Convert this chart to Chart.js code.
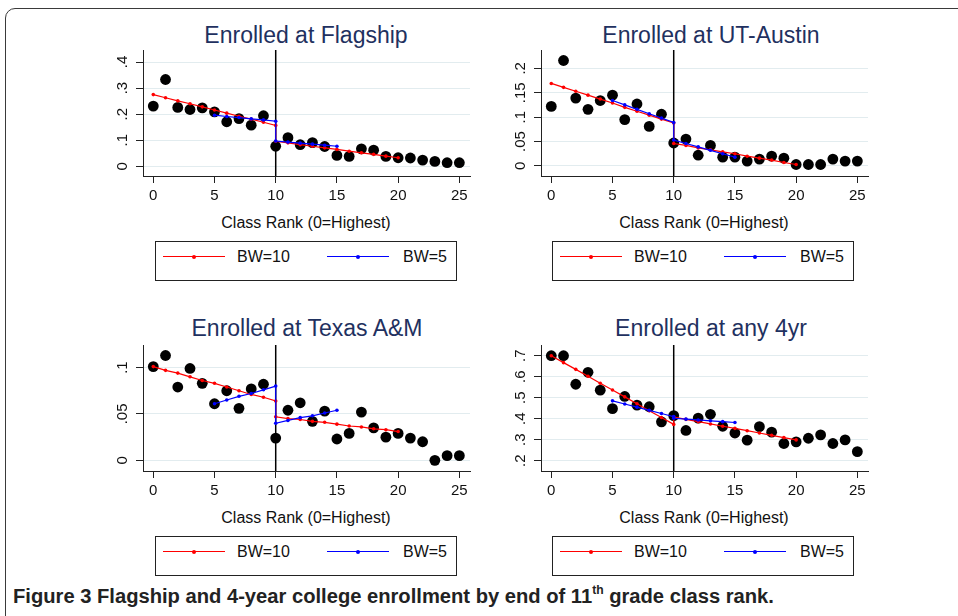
<!DOCTYPE html>
<html>
<head>
<meta charset="utf-8">
<script src="https://cdn.jsdelivr.net/npm/chart.js@4.4.1/dist/chart.umd.min.js"></script>
<style>
  body { margin: 0; width: 958px; height: 616px; background: #fff; overflow: hidden; position: relative;
         font-family: "Liberation Sans", Arial, sans-serif; }
  .frame { position: absolute; left: 5px; top: 8px; width: 1000px; height: 700px;
           border: 1.5px solid #3a3a3a; border-top-left-radius: 10px; }
  .panel-title { position: absolute; width: 400px; margin-left: -200px; text-align: center;
                 font-size: 23px; line-height: 23px; color: #1f3160; white-space: nowrap; }
  .x-title { position: absolute; width: 300px; margin-left: -150px; text-align: center;
             font-size: 16px; line-height: 16px; color: #111; white-space: nowrap; }
  .legend { position: absolute; width: 300px; height: 38px; border: 1px solid #222; background: #fff; }
  .key-line { position: absolute; top: 14px; width: 62px; height: 1.2px; }
  .key-dot { position: absolute; top: 12.6px; left: 29px; width: 4px; height: 4px; border-radius: 50%; }
  .key-text { position: absolute; top: 7px; font-size: 16px; line-height: 16px; color: #111; white-space: nowrap; }
  canvas { position: absolute; }
  .caption { position: absolute; left: 13px; top: 586px; font-size: 20px; line-height: 20px; font-weight: bold;
             color: #222; white-space: nowrap; display: inline-block; transform-origin: 0 0; }
  .caption sup { font-size: 12px; vertical-align: baseline; position: relative; top: -9px; }
</style>
</head>
<body>
<div class="frame"></div>

<div class="panel-title" style="left:306px; top:24px;">Enrolled at Flagship</div>
<div class="panel-title" style="left:711px; top:24px;">Enrolled at UT-Austin</div>
<div class="panel-title" style="left:307px; top:317px;">Enrolled at Texas A&amp;M</div>
<div class="panel-title" style="left:711px; top:317px;">Enrolled at any 4yr</div>

<canvas id="c1"></canvas>
<canvas id="c2"></canvas>
<canvas id="c3"></canvas>
<canvas id="c4"></canvas>

<div class="x-title" style="left:306px; top:215px;">Class Rank (0=Highest)</div>
<div class="x-title" style="left:704px; top:215px;">Class Rank (0=Highest)</div>
<div class="x-title" style="left:306px; top:510px;">Class Rank (0=Highest)</div>
<div class="x-title" style="left:704px; top:510px;">Class Rank (0=Highest)</div>

<div id="legends"></div>

<div class="caption" id="caption">Figure 3 Flagship and 4-year college enrollment by end of 11<sup>th</sup> grade class rank.</div>

<script>
// class rank on the x axis
var ranks = [0, 1, 2, 3, 4, 5, 6, 7, 8, 9, 10, 11, 12, 13, 14, 15, 16, 17, 18, 19, 20, 21, 22, 23, 24, 25];
var xTicks = [0, 5, 10, 15, 20, 25];
var cutoff = 10;

// binned means (black dots)
var flagship = [0.231, 0.333, 0.226, 0.218, 0.224, 0.209, 0.171, 0.183, 0.158, 0.194, 0.077, 0.110, 0.083,
                0.091, 0.076, 0.042, 0.038, 0.067, 0.062, 0.038, 0.033, 0.032, 0.024, 0.019, 0.014, 0.014];
var utAustin = [0.122, 0.216, 0.139, 0.116, 0.134, 0.145, 0.095, 0.127, 0.081, 0.106, 0.047, 0.055, 0.022,
                0.042, 0.018, 0.018, 0.010, 0.014, 0.020, 0.016, 0.003, 0.003, 0.003, 0.014, 0.010, 0.010];
var texasAM  = [0.101, 0.113, 0.079, 0.099, 0.083, 0.061, 0.075, 0.056, 0.077, 0.082, 0.024, 0.054, 0.062,
                0.042, 0.053, 0.023, 0.029, 0.052, 0.035, 0.025, 0.029, 0.024, 0.020, 0.000, 0.005, 0.005];
var any4yr   = [0.700, 0.700, 0.564, 0.621, 0.536, 0.448, 0.506, 0.465, 0.457, 0.385, 0.415, 0.344, 0.403,
                0.421, 0.364, 0.332, 0.298, 0.362, 0.336, 0.282, 0.290, 0.307, 0.323, 0.282, 0.299, 0.243];

// fitted lines, BW=10 (ranks 0-10 and 10-20) and BW=5 (ranks 5-10 and 10-15)
var flagBw10Left  = [0.275, 0.263, 0.251, 0.240, 0.228, 0.216, 0.204, 0.192, 0.181, 0.169, 0.157];
var flagBw10Right = [0.096, 0.090, 0.083, 0.077, 0.071, 0.065, 0.058, 0.052, 0.046, 0.039, 0.033];
var flagBw5Left   = [0.196, 0.191, 0.187, 0.182, 0.178, 0.173];
var flagBw5Right  = [0.097, 0.093, 0.089, 0.085, 0.081, 0.077];

var utBw10Left  = [0.169, 0.161, 0.153, 0.145, 0.137, 0.129, 0.120, 0.112, 0.104, 0.096, 0.088];
var utBw10Right = [0.046, 0.042, 0.037, 0.033, 0.029, 0.025, 0.020, 0.016, 0.012, 0.007, 0.003];
var utBw5Left   = [0.134, 0.125, 0.116, 0.107, 0.098, 0.089];
var utBw5Right  = [0.053, 0.046, 0.039, 0.032, 0.025, 0.018];

var tamBw10Left  = [0.101, 0.097, 0.094, 0.090, 0.086, 0.083, 0.079, 0.075, 0.071, 0.068, 0.064];
var tamBw10Right = [0.047, 0.045, 0.044, 0.042, 0.041, 0.039, 0.037, 0.036, 0.034, 0.033, 0.031];
var tamBw5Left   = [0.061, 0.065, 0.069, 0.072, 0.076, 0.080];
var tamBw5Right  = [0.040, 0.043, 0.046, 0.048, 0.051, 0.054];

var anyBw10Left  = [0.700, 0.667, 0.635, 0.602, 0.569, 0.537, 0.504, 0.471, 0.438, 0.406, 0.373];
var anyBw10Right = [0.408, 0.397, 0.386, 0.375, 0.364, 0.354, 0.343, 0.332, 0.321, 0.310, 0.299];
var anyBw5Left   = [0.485, 0.470, 0.455, 0.440, 0.425, 0.410];
var anyBw5Right  = [0.402, 0.398, 0.394, 0.390, 0.386, 0.382];

// y axis ticks and labels
var flagYTicks = [0, 0.1, 0.2, 0.3, 0.4];
var flagYLabels = ["0", ".1", ".2", ".3", ".4"];
var utYTicks = [0, 0.05, 0.1, 0.15, 0.2];
var utYLabels = ["0", ".05", ".1", ".15", ".2"];
var tamYTicks = [0, 0.05, 0.1];
var tamYLabels = ["0", ".05", ".1"];
var anyYTicks = [0.2, 0.3, 0.4, 0.5, 0.6, 0.7];
var anyYLabels = [".2", ".3", ".4", ".5", ".6", ".7"];

var legendLabels = ["BW=10", "BW=5"];

var FONT = '"Liberation Sans", Arial, sans-serif';
var RED = "#ff0000";
var BLUE = "#0000ff";

var bw10LeftRanks = ranks.slice(0, 11);
var bw10RightRanks = ranks.slice(10, 21);
var bw5LeftRanks = ranks.slice(5, 11);
var bw5RightRanks = ranks.slice(10, 16);

function toPoints(xs, ys) {
    return ys.map(function(y, i) { return { x: xs[i], y: y }; });
}

// rotated y tick labels, like Stata draws them
var yLabelPlugin = {
    id: 'yLabels',
    afterDraw: function(chart, args, opts) {
        var ctx = chart.ctx;
        var yScale = chart.scales.y;
        ctx.save();
        ctx.font = '15px ' + FONT;
        ctx.fillStyle = '#111';
        ctx.textAlign = 'center';
        ctx.textBaseline = 'middle';
        opts.values.forEach(function(v, i) {
            ctx.save();
            ctx.translate(chart.chartArea.left - 20, yScale.getPixelForValue(v));
            ctx.rotate(-Math.PI / 2);
            ctx.fillText(opts.labels[i], 0, 0);
            ctx.restore();
        });
        ctx.restore();
    }
};

var panels = [
    { id: 'c1', dots: flagship, l10: flagBw10Left, r10: flagBw10Right, l5: flagBw5Left, r5: flagBw5Right,
      yMin: -0.037, yMax: 0.446, yTicks: flagYTicks, yLabels: flagYLabels, area: [143, 50, 470, 176] },
    { id: 'c2', dots: utAustin, l10: utBw10Left, r10: utBw10Right, l5: utBw5Left, r5: utBw5Right,
      yMin: -0.0206, yMax: 0.2375, yTicks: utYTicks, yLabels: utYLabels, area: [541, 50, 868, 176] },
    { id: 'c3', dots: texasAM, l10: tamBw10Left, r10: tamBw10Right, l5: tamBw5Left, r5: tamBw5Right,
      yMin: -0.0115, yMax: 0.1243, yTicks: tamYTicks, yLabels: tamYLabels, area: [143, 345, 470, 471] },
    { id: 'c4', dots: any4yr, l10: anyBw10Left, r10: anyBw10Right, l5: anyBw5Left, r5: anyBw5Right,
      yMin: 0.151, yMax: 0.751, yTicks: anyYTicks, yLabels: anyYLabels, area: [541, 345, 868, 471] }
];

var AXIS_W = 50, AXIS_H = 35, PAD_T = 12, PAD_R = 12;

panels.forEach(function(p) {
    var canvas = document.getElementById(p.id);
    var w = p.area[2] - p.area[0] + AXIS_W + PAD_R;
    var h = p.area[3] - p.area[1] + PAD_T + AXIS_H;
    canvas.width = w;
    canvas.height = h;
    canvas.style.width = w + 'px';
    canvas.style.height = h + 'px';
    canvas.style.left = (p.area[0] - AXIS_W) + 'px';
    canvas.style.top = (p.area[1] - PAD_T) + 'px';

    var bw10 = toPoints(bw10LeftRanks, p.l10).concat(toPoints(bw10RightRanks, p.r10));
    var bw5 = toPoints(bw5LeftRanks, p.l5).concat(toPoints(bw5RightRanks, p.r5));

    new Chart(canvas.getContext('2d'), {
        type: 'scatter',
        data: {
            datasets: [
                { label: legendLabels[1], data: bw5, showLine: true, borderColor: BLUE, backgroundColor: BLUE,
                  borderWidth: 1.2, pointRadius: 1.8, pointBorderWidth: 0 },
                { label: legendLabels[0], data: bw10, showLine: true, borderColor: RED, backgroundColor: RED,
                  borderWidth: 1.2, pointRadius: 1.8, pointBorderWidth: 0 },
                { label: 'bins', data: toPoints(ranks, p.dots), backgroundColor: '#000', borderWidth: 0,
                  pointRadius: 5.4 },
                { label: 'cutoff', data: [{ x: cutoff, y: p.yMin }, { x: cutoff, y: p.yMax }], showLine: true,
                  borderColor: '#000', borderWidth: 1.5, pointRadius: 0 }
            ]
        },
        options: {
            responsive: false,
            animation: false,
            events: [],
            devicePixelRatio: 1,
            layout: { padding: { left: 0, top: PAD_T, right: PAD_R, bottom: 0 } },
            plugins: {
                legend: { display: false },
                tooltip: { enabled: false },
                yLabels: { values: p.yTicks, labels: p.yLabels }
            },
            scales: {
                x: {
                    type: 'linear', min: -0.84, max: 25.87,
                    afterBuildTicks: function(s) { s.ticks = xTicks.map(function(v) { return { value: v }; }); },
                    afterFit: function(s) { s.height = AXIS_H; },
                    grid: { drawOnChartArea: false, tickLength: 7, tickColor: '#222', tickWidth: 1 },
                    border: { display: true, color: '#222', width: 1 },
                    ticks: { font: { family: FONT, size: 15 }, color: '#111', padding: 4, maxRotation: 0,
                             autoSkip: false, callback: function(v) { return String(v); } }
                },
                y: {
                    type: 'linear', min: p.yMin, max: p.yMax,
                    afterBuildTicks: function(s) { s.ticks = p.yTicks.map(function(v) { return { value: v }; }); },
                    afterFit: function(s) { s.width = AXIS_W; },
                    grid: { color: '#e2ecef', lineWidth: 1, tickLength: 7, tickColor: '#222', tickWidth: 1 },
                    border: { display: true, color: '#222', width: 1 },
                    ticks: { display: false }
                }
            }
        },
        plugins: [yLabelPlugin]
    });
});

// legends
var legendBoxes = [[155, 241], [552, 241], [155, 536], [552, 536]];
var legendHolder = document.getElementById('legends');
legendBoxes.forEach(function(b) {
    var box = document.createElement('div');
    box.className = 'legend';
    box.style.left = b[0] + 'px';
    box.style.top = b[1] + 'px';
    var keys = [[7, 81, RED, legendLabels[0]], [171, 247, BLUE, legendLabels[1]]];
    keys.forEach(function(k) {
        var line = document.createElement('div');
        line.className = 'key-line';
        line.style.left = k[0] + 'px';
        line.style.background = k[2];
        var dot = document.createElement('div');
        dot.className = 'key-dot';
        dot.style.left = (k[0] + 29) + 'px';
        dot.style.background = k[2];
        var txt = document.createElement('div');
        txt.className = 'key-text';
        txt.style.left = k[1] + 'px';
        txt.textContent = k[3];
        box.appendChild(line);
        box.appendChild(dot);
        box.appendChild(txt);
    });
    legendHolder.appendChild(box);
});

// squeeze caption to the width it has in the figure
var cap = document.getElementById('caption');
cap.style.transform = 'scaleX(' + (761 / cap.offsetWidth) + ')';
</script>
</body>
</html>
